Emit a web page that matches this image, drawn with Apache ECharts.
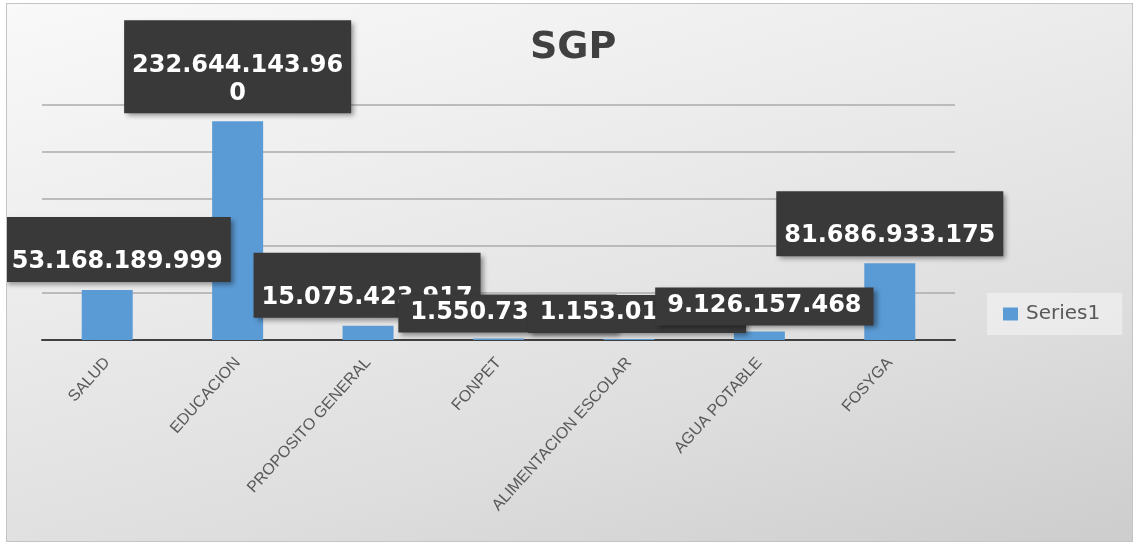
<!DOCTYPE html>
<html>
<head>
<meta charset="utf-8">
<title>SGP</title>
<script src="https://cdn.jsdelivr.net/npm/echarts@6/dist/echarts.min.js"></script>
<style>
  html, body { margin: 0; padding: 0; background: #fff; }
  #sgp {
    position: absolute; left: 6px; top: 3px;
    width: 1125px; height: 537px;
    border: 1px solid #c4c4c4;
    background: linear-gradient(165deg, #f9f9f9 0%, #ececec 35%, #dedede 70%, #cdcdcd 100%);
  }
</style>
</head>
<body>
<div id="sgp"></div>
<script>
  // datos
  var categorias = ['SALUD', 'EDUCACION', 'PROPOSITO GENERAL', 'FONPET', 'ALIMENTACION ESCOLAR', 'AGUA POTABLE', 'FOSYGA']
  var valores = [53168189999, 232644143960, 15075423917, 1550735000, 1153010000, 9126157468, 81686933175]
  var serieNombre = 'Series1'
  var tituloTexto = 'SGP'

  // posicion de las etiquetas (como en el original de excel)
  var labelOffsets = [[10, -8], [0, -8], [-1, -8], [9, -6], [8, -6], [5, -6], [0, -7]]
  var labelPadTop = [31, 31, 31, 4, 4, 4, 31]
  var labelPadSide = [8, 8, 8, 12, 12, 12, 8]

  function miles (v) {
    var s = String(Math.round(v)).replace(/\B(?=(\d{3})+(?!\d))/g, '.')
    // el cuadro de excel corta a 14 caracteres
    var out = []
    while (s.length > 14) {
      out.push(s.slice(0, 14))
      s = s.slice(14)
    }
    out.push(s)
    return out.join('\n')
  }

  var datos = valores.map(function (v, i) {
    return {
      value: v,
      label: {
        offset: labelOffsets[i],
        padding: [labelPadTop[i], labelPadSide[i], 6, labelPadSide[i]]
      }
    }
  })

  var chart = echarts.init(document.getElementById('sgp'))
  chart.setOption({
    animation: false,
    title: {
      text: tituloTexto,
      left: 518,
      top: 20,
      textStyle: { fontFamily: 'DejaVu Sans', fontWeight: 'bold', fontSize: 38, color: '#404040' }
    },
    legend: {
      data: [serieNombre],
      left: 980,
      top: 289,
      padding: [11, 22, 11, 16],
      backgroundColor: 'rgba(245,245,245,0.55)',
      itemWidth: 15,
      itemHeight: 13,
      icon: 'rect',
      textStyle: { fontFamily: 'DejaVu Sans', fontSize: 20, color: '#595959', padding: [0, 0, 0, 3] }
    },
    grid: { left: 35, right: 177, top: 101, bottom: 201 },
    xAxis: {
      type: 'category',
      data: categorias,
      axisLine: { lineStyle: { color: '#404040', width: 2 } },
      axisTick: { show: false },
      axisLabel: {
        interval: 0,
        rotate: 48,
        margin: 20,
        fontFamily: 'Liberation Sans',
        fontSize: 16,
        color: '#595959'
      }
    },
    yAxis: {
      type: 'value',
      min: 0,
      max: 250000000000,
      interval: 50000000000,
      axisLabel: { show: false },
      axisLine: { show: false },
      axisTick: { show: false },
      splitLine: { lineStyle: { color: '#ababab', width: 1.5 } }
    },
    series: [{
      name: serieNombre,
      type: 'bar',
      barWidth: 51,
      itemStyle: { color: '#5b9bd5' },
      label: {
        show: true,
        position: 'top',
        distance: 0,
        formatter: function (p) { return miles(p.value) },
        color: '#ffffff',
        fontFamily: 'DejaVu Sans',
        fontWeight: 'bold',
        fontSize: 24,
        lineHeight: 28,
        align: 'center',
        backgroundColor: '#393939',
        shadowColor: 'rgba(0,0,0,0.4)',
        shadowBlur: 5,
        shadowOffsetX: 3,
        shadowOffsetY: 3
      },
      data: datos
    }]
  })
</script>
</body>
</html>
